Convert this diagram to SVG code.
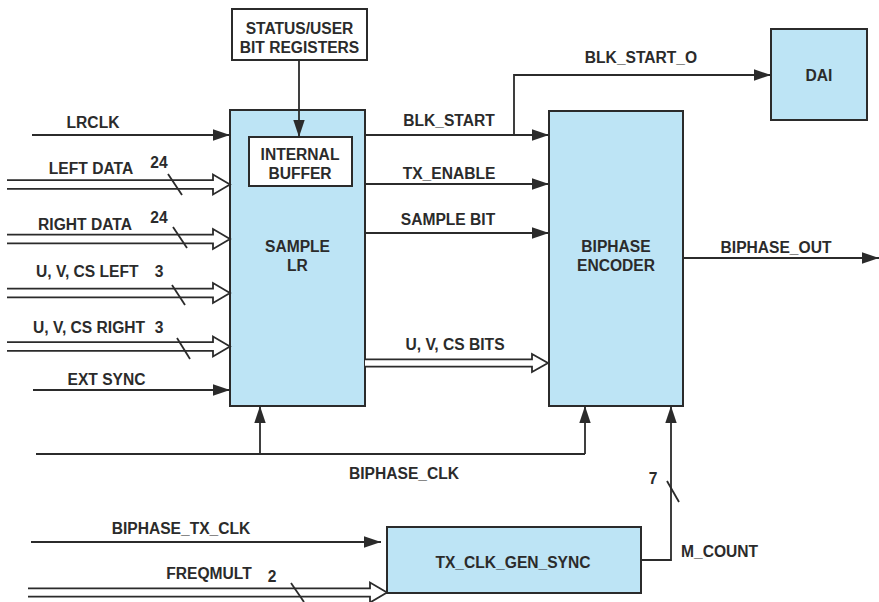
<svg xmlns="http://www.w3.org/2000/svg" width="879" height="602" viewBox="0 0 879 602">
<style>
.box{fill:#bde4f5;stroke:#2b2b2b;stroke-width:2}
.wbox{fill:#ffffff;stroke:#2b2b2b;stroke-width:2}
.ln{fill:none;stroke:#2b2b2b;stroke-width:1.8}
.arr{fill:none;stroke:#2b2b2b;stroke-width:1.8;marker-end:url(#ah)}
.bus{fill:#ffffff;stroke:#2b2b2b;stroke-width:1.8;stroke-linejoin:miter}
text{font-family:"Liberation Sans",Arial,Helvetica,sans-serif;font-weight:bold;font-size:15.6px;fill:#2b2b2b}
.m{text-anchor:middle}
</style>
<defs>
<marker id="ah" markerUnits="userSpaceOnUse" markerWidth="18" markerHeight="12" refX="17" refY="5.7" orient="auto">
<path d="M0,0 L17,5.7 L0,11.4 z" fill="#2b2b2b"/>
</marker>
</defs>
<g id="sample-lr">
<rect class="box" x="230" y="110" width="135" height="296"/>
<text class="m" x="297.5" y="251.6">SAMPLE</text>
<text class="m" x="297.5" y="270.6">LR</text>
</g>
<g id="internal-buffer">
<rect class="wbox" x="249" y="137" width="103" height="49"/>
<text class="m" x="300" y="160">INTERNAL</text>
<text class="m" x="300" y="179">BUFFER</text>
</g>
<g id="status-user">
<rect class="wbox" x="232" y="9" width="135" height="51"/>
<text class="m" x="299.5" y="34">STATUS/USER</text>
<text class="m" x="299.5" y="53.3">BIT REGISTERS</text>
</g>
<g id="biphase-encoder">
<rect class="box" x="549" y="111" width="134" height="295"/>
<text class="m" x="616" y="251.6">BIPHASE</text>
<text class="m" x="616" y="270.6">ENCODER</text>
</g>
<g id="dai">
<rect class="box" x="771" y="29" width="96" height="91"/>
<text class="m" x="819" y="80.6">DAI</text>
</g>
<g id="tx-clk-gen-sync">
<rect class="box" x="387" y="527" width="254" height="66"/>
<text class="m" x="513" y="567.6">TX_CLK_GEN_SYNC</text>
</g>
<g id="connectors">
<line class="arr" x1="299" y1="60" x2="299" y2="137"/>
<line class="arr" x1="32" y1="135" x2="230" y2="135"/>
<line class="arr" x1="33" y1="390" x2="230" y2="390"/>
<polyline class="bus" points="7,180.2 213,180.2 213,174.5 230,184.5 213,194.5 213,188.8 7,188.8"/>
<polyline class="bus" points="7,234.7 213,234.7 213,229 230,239 213,249 213,243.3 7,243.3"/>
<polyline class="bus" points="7,288.7 213,288.7 213,283 230,293 213,303 213,297.3 7,297.3"/>
<polyline class="bus" points="7,342.2 213,342.2 213,336.5 230,346.5 213,356.5 213,350.8 7,350.8"/>
<polyline class="bus" points="365,359.3 532,359.3 532,354 548,363 532,372 532,366.7 365,366.7"/>
<polyline class="bus" points="28,588.3 370,588.3 370,582.5 387,592.5 370,602.5 370,596.7 28,596.7"/>
<line class="ln" x1="168" y1="174" x2="182" y2="195"/>
<line class="ln" x1="173" y1="227" x2="187" y2="248"/>
<line class="ln" x1="172" y1="285" x2="185" y2="305"/>
<line class="ln" x1="177" y1="338" x2="190" y2="359"/>
<line class="ln" x1="291" y1="583" x2="304" y2="602"/>
<line class="ln" x1="667" y1="481" x2="679" y2="502"/>
<line class="arr" x1="365" y1="135" x2="549" y2="135"/>
<polyline class="arr" points="514,135 514,75 771,75"/>
<line class="arr" x1="365" y1="184" x2="549" y2="184"/>
<line class="arr" x1="365" y1="233" x2="549" y2="233"/>
<line class="arr" x1="683" y1="258" x2="879" y2="258"/>
<line class="ln" x1="36" y1="454" x2="585" y2="454"/>
<line class="arr" x1="260" y1="454" x2="260" y2="406"/>
<line class="arr" x1="585" y1="454" x2="585" y2="406"/>
<polyline class="arr" points="641,560 671,560 671,406"/>
<line class="arr" x1="31" y1="542" x2="381" y2="542"/>
</g>
<g id="labels">
<text class="m" x="93" y="127.6">LRCLK</text>
<text class="m" x="91" y="173.6">LEFT DATA</text>
<text class="m" x="159" y="167.6">24</text>
<text class="m" x="85" y="229.6">RIGHT DATA</text>
<text class="m" x="159" y="222.6">24</text>
<text x="36" y="277">U, V, CS LEFT</text>
<text class="m" x="159" y="277">3</text>
<text x="33" y="332.6">U, V, CS RIGHT</text>
<text class="m" x="159" y="332.6">3</text>
<text class="m" x="106.5" y="384.6">EXT SYNC</text>
<text class="m" x="449" y="125.6">BLK_START</text>
<text class="m" x="449" y="178.6">TX_ENABLE</text>
<text class="m" x="448" y="224.9">SAMPLE BIT</text>
<text class="m" x="455" y="349.6">U, V, CS BITS</text>
<text class="m" x="641" y="62.6">BLK_START_O</text>
<text class="m" x="776" y="252.6">BIPHASE_OUT</text>
<text class="m" x="404" y="478.6">BIPHASE_CLK</text>
<text class="m" x="653" y="483.6">7</text>
<text x="681" y="556.6">M_COUNT</text>
<text class="m" x="181" y="533.6">BIPHASE_TX_CLK</text>
<text class="m" x="209" y="578.6">FREQMULT</text>
<text class="m" x="272" y="582">2</text>
</g>
</svg>
